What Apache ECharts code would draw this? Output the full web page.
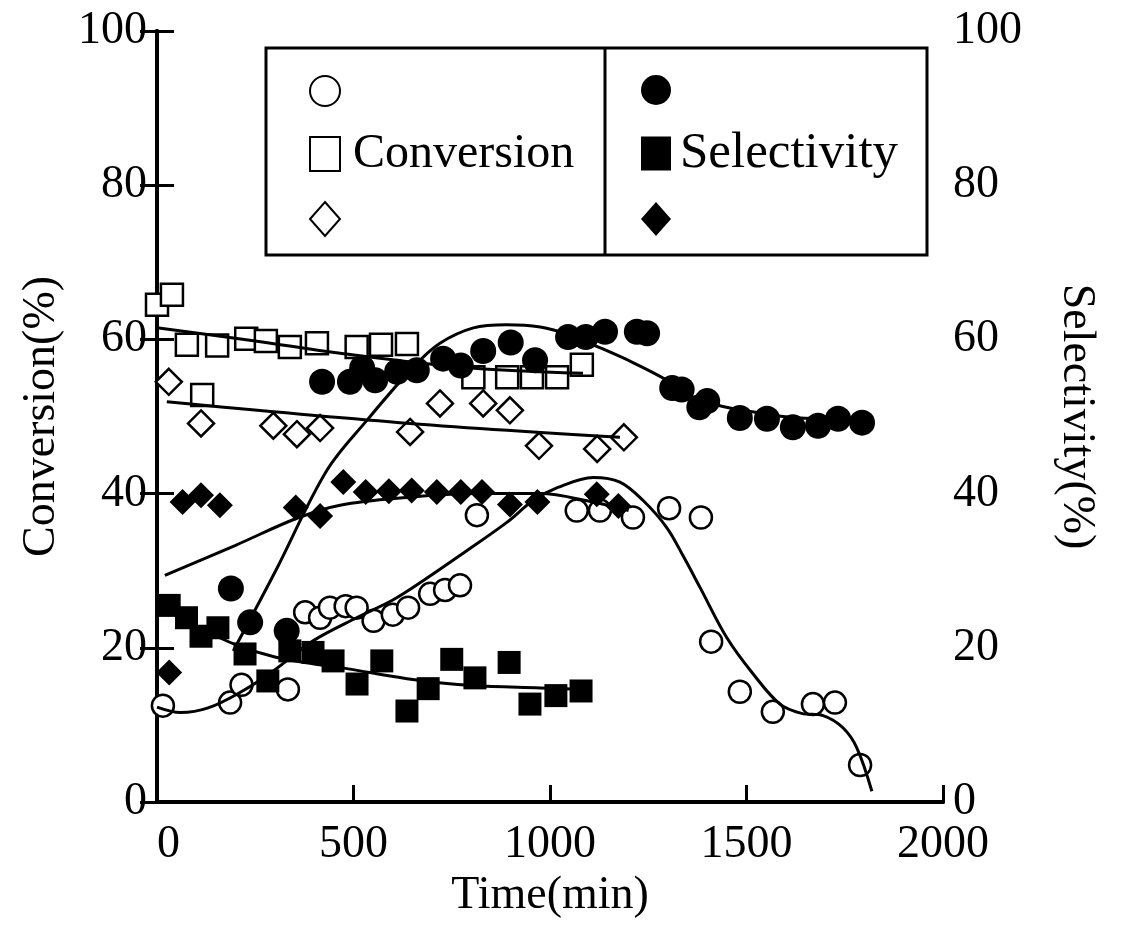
<!DOCTYPE html>
<html>
<head>
<meta charset="utf-8">
<script src="https://cdn.jsdelivr.net/npm/echarts@6/dist/echarts.min.js"></script>
<style>
  html, body { margin: 0; padding: 0; background: #fff; }
  #main { width: 1122px; height: 942px; }
</style>
</head>
<body>
<div id="main"></div>
<script>
// data: [time (min), percent]
var xTicks = [0, 500, 1000, 1500, 2000];
var yTicks = [0, 20, 40, 60, 80, 100];

var convCircle = [[15,12.5],[186,12.9],[215,15.2],[333,14.6],[377,24.6],[415,23.9],[440,25.2],[480,25.4],[508,25.2],[551,23.5],[600,24.3],[639,25.2],[695,27],[733,27.5],[771,28.1],[814,37.2],[1068,37.8],[1127,37.8],[1211,36.9],[1303,38.1],[1384,36.9],[1410,20.8],[1483,14.3],[1567,11.7],[1669,12.7],[1725,12.9],[1789,4.8]];
var convSquare = [[0,64.5],[38,65.8],[76,59.3],[115,52.8],[153,59.2],[227,60.1],[277,59.8],[338,59],[407,59.5],[508,59],[570,59.3],[636,59.4],[805,55.1],[891,55.1],[954,55.1],[1018,55.1],[1081,56.7]];
var convDiamond = [[30,54.5],[112,49.1],[296,48.8],[356,47.7],[415,48.5],[644,48],[720,51.7],[830,51.7],[898,50.8],[972,46.2],[1120,45.8],[1188,47.3]];

var selCircle = [[188,27.7],[237,23.3],[330,22.2],[420,54.5],[491,54.5],[522,56.3],[555,54.7],[611,55.8],[661,56],[728,57.5],[773,56.6],[830,58.5],[900,59.6],[962,57.3],[1046,60.3],[1091,60.3],[1140,61],[1221,61],[1247,60.8],[1311,53.7],[1335,53.5],[1380,51.2],[1400,52],[1483,49.8],[1552,49.7],[1618,48.6],[1682,48.8],[1733,49.7],[1794,49.2]];
var selSquare = [[31,25.5],[75,23.9],[112,21.5],[155,22.6],[224,19.2],[282,15.7],[338,19.6],[397,19.4],[448,18.3],[509,15.3],[572,18.3],[636,11.8],[690,14.7],[750,18.5],[809,16.1],[896,18.1],[949,12.7],[1015,13.8],[1079,14.4]];
var selDiamond = [[31,16.8],[65,38.9],[112,39.8],[160,38.5],[353,38.2],[415,37.1],[474,41.5],[531,40.2],[590,40.3],[648,40.4],[712,40.2],[773,40.2],[827,40.2],[898,38.6],[968,38.9],[1119,39.9],[1174,38.4]];

// hand drawn trend curves
var convCircleFit = [[0,12.3],[60,11.6],[130,12.2],[211,14.2],[296,17],[397,20.9],[508,23.9],[600,26.2],[677,28.7],[780,32.3],[891,36.3],[957,39.1],[1020,40.8],[1110,42.1],[1178,41.5],[1237,39.1],[1297,35.6],[1340,31.8],[1382,27.8],[1450,21.3],[1517,16.6],[1585,12.7],[1640,11.5],[1695,11.2],[1746,9.6],[1781,7],[1819,1.4]];
var convSquareFit = [[0,61.5],[250,59.8],[466,58.2],[771,56.4],[1084,55.6]];
var convDiamondFit = [[25,51.9],[618,49.2],[1178,47.3]];
var selCircleFit = [[194,19.6],[300,29.8],[432,43],[534,49.5],[652,56.4],[720,59.5],[805,61.5],[890,61.9],[975,61.6],[1050,60.6],[1110,59.3],[1211,57],[1298,54.7],[1364,52.5],[1440,51.3],[1567,50.2],[1636,49.8],[1780,49.6]];
var selSquareFit = [[0,25.5],[100,22.8],[200,20.4],[300,18.8],[400,17.9],[483,17.3],[636,16],[804,15.1],[975,14.8],[1090,14.6]];
var selDiamondFit = [[20,29.4],[200,33.3],[356,36.8],[466,38.5],[636,39.5],[805,40],[975,40],[1100,39],[1200,37.8]];

var chart = echarts.init(document.getElementById('main'));
var FONT = '"Liberation Serif", "DejaVu Serif", serif';

function dots(name, data, symbol, size, filled, yIdx) {
    return {
        name: name,
        type: 'scatter',
        yAxisIndex: yIdx,
        data: data,
        symbol: symbol,
        symbolSize: size,
        z: filled ? 4 : 3,
        itemStyle: {
            color: filled ? '#000' : '#fff',
            borderColor: '#000',
            borderWidth: filled ? 0 : 2.5,
            opacity: 1
        }
    };
}
function curve(data, yIdx) {
    return {
        type: 'line',
        yAxisIndex: yIdx,
        data: data,
        smooth: 0.35,
        showSymbol: false,
        symbol: 'none',
        z: 5,
        lineStyle: { color: '#000', width: 3 }
    };
}

var legendText = {
    'conv-o': '', 'conv-s': 'Conversion', 'conv-d': '',
    'sel-o': '', 'sel-s': 'Selectivity', 'sel-d': ''
};

var yAxisBase = {
    type: 'value',
    min: 0,
    max: 100,
    interval: 20,
    splitLine: { show: false },
    axisLine: { show: true, lineStyle: { color: '#000', width: 4 } },
    axisTick: { show: true, inside: true, length: 17, lineStyle: { color: '#000', width: 3 } },
    axisLabel: { color: '#000', fontFamily: FONT, fontSize: 46, margin: 10 },
    nameLocation: 'middle',
    nameTextStyle: { color: '#000', fontFamily: FONT, fontSize: 46 }
};

option = {
    backgroundColor: '#fff',
    animation: false,
    grid: { left: 157, right: 179, top: 31, bottom: 140 },
    xAxis: [
        {
            type: 'value',
            min: 0,
            max: 2000,
            interval: 500,
            name: 'Time(min)',
            nameLocation: 'middle',
            nameGap: 57,
            nameTextStyle: { color: '#000', fontFamily: FONT, fontSize: 46 },
            splitLine: { show: false },
            axisLine: { lineStyle: { color: '#000', width: 4 } },
            axisTick: { inside: true, length: 17, lineStyle: { color: '#000', width: 3 } },
            axisLabel: {
                color: '#000', fontFamily: FONT, fontSize: 46, margin: 20,
                alignMinLabel: 'left',
                formatter: function (v) { return String(v); }
            }
        },
        {
            type: 'value',
            position: 'top',
            min: 0,
            max: 2000,
            splitLine: { show: false },
            axisLine: { lineStyle: { color: '#000', width: 4 } },
            axisTick: { show: false },
            axisLabel: { show: false }
        }
    ],
    yAxis: [
        Object.assign({}, yAxisBase, {
            position: 'left',
            name: 'Conversion(%)',
            nameGap: 92
        }),
        Object.assign({}, yAxisBase, {
            position: 'right',
            name: 'Selectivity(%)',
            nameGap: 110,
            nameRotate: -90
        })
    ],
    legend: [
        {
            data: ['conv-o', 'conv-s', 'conv-d'],
            orient: 'vertical',
            left: 304,
            top: 70,
            itemWidth: 30,
            itemHeight: 34,
            itemGap: 23,
            selectedMode: false,
            formatter: function (n) { return legendText[n]; },
            textStyle: { color: '#000', fontFamily: FONT, fontSize: 48, lineHeight: 34, padding: [0, 0, 0, 8] }
        },
        {
            data: ['sel-o', 'sel-s', 'sel-d'],
            orient: 'vertical',
            left: 636,
            top: 70,
            itemWidth: 30,
            itemHeight: 34,
            itemGap: 23,
            selectedMode: false,
            formatter: function (n) { return legendText[n]; },
            textStyle: { color: '#000', fontFamily: FONT, fontSize: 51, lineHeight: 34, padding: [0, 0, 0, 4] }
        }
    ],
    graphic: [
        {
            type: 'rect',
            shape: { x: 266, y: 48, width: 661, height: 207 },
            style: { fill: 'none', stroke: '#000', lineWidth: 3 },
            z: 1
        },
        {
            type: 'line',
            shape: { x1: 605, y1: 48, x2: 605, y2: 255 },
            style: { stroke: '#000', lineWidth: 3 },
            z: 1
        }
    ],
    series: [
        dots('conv-o', convCircle, 'circle', 22, false, 0),
        dots('conv-s', convSquare, 'rect', 22, false, 0),
        dots('conv-d', convDiamond, 'diamond', 26, false, 0),
        dots('sel-o', selCircle, 'circle', 26, true, 1),
        dots('sel-s', selSquare, 'rect', 23, true, 1),
        dots('sel-d', selDiamond, 'diamond', 26, true, 1),
        curve(convCircleFit, 0),
        curve(convSquareFit, 0),
        curve(convDiamondFit, 0),
        curve(selCircleFit, 1),
        curve(selSquareFit, 1),
        curve(selDiamondFit, 1)
    ]
};

chart.setOption(option);
</script>
</body>
</html>
